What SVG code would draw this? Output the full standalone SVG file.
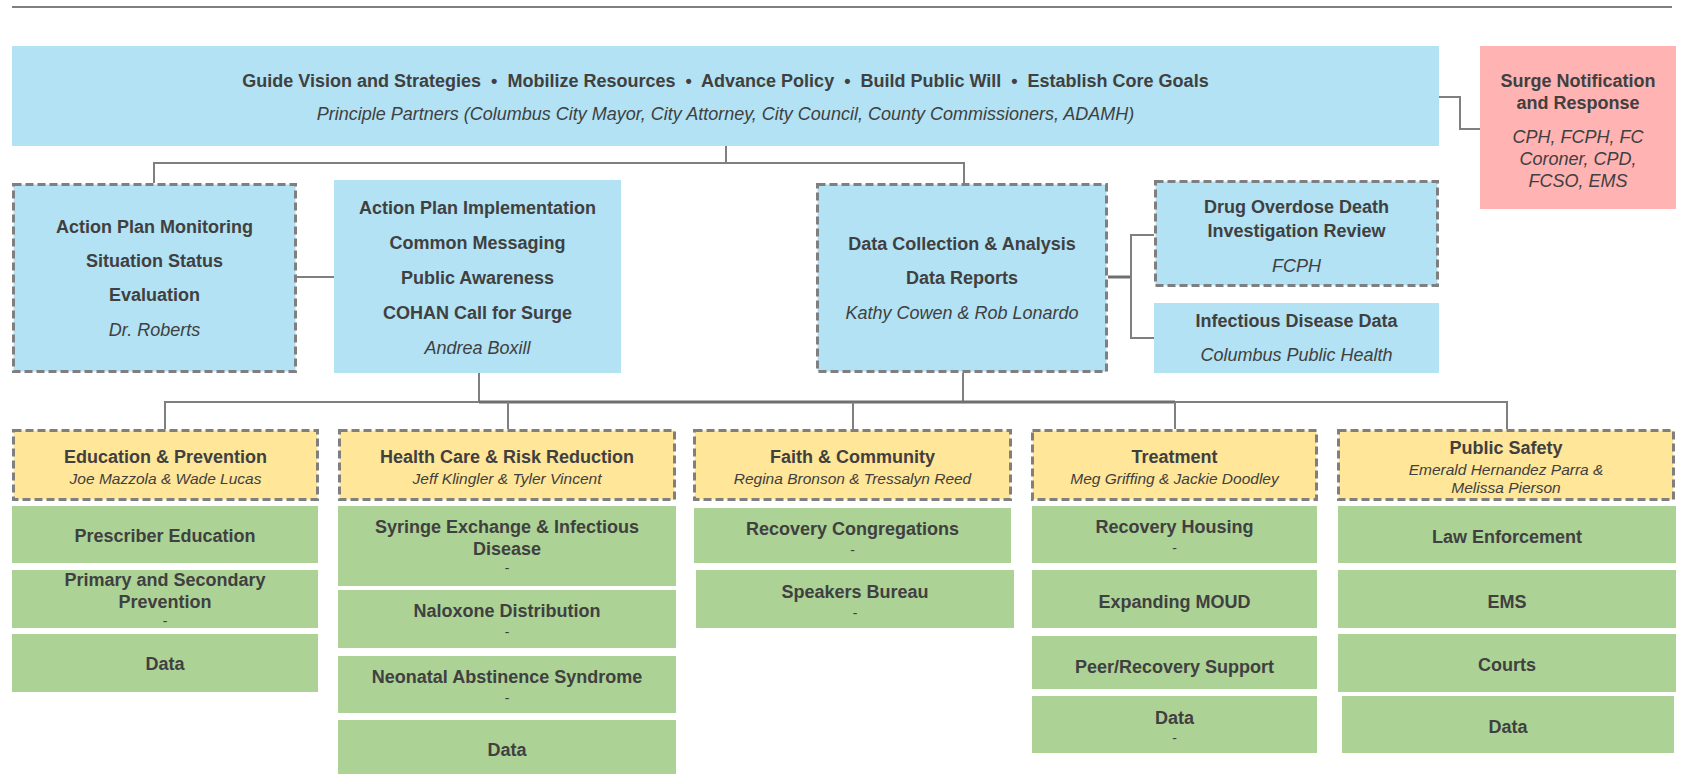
<svg xmlns="http://www.w3.org/2000/svg" width="1683" height="774" viewBox="0 0 1683 774">
<style>
.b{font-family:"Liberation Sans",Arial,sans-serif;font-weight:bold;font-size:18px;fill:#404040;text-anchor:middle;dominant-baseline:central}
.i{font-family:"Liberation Sans",Arial,sans-serif;font-style:italic;font-size:18px;fill:#404040;text-anchor:middle;dominant-baseline:central}
.n{font-family:"Liberation Sans",Arial,sans-serif;font-style:italic;font-size:15.5px;fill:#404040;text-anchor:middle;dominant-baseline:central}
.d{font-family:"Liberation Sans",Arial,sans-serif;font-size:14px;fill:#404040;text-anchor:middle;dominant-baseline:central}
.blue{fill:#b2e2f3}
.pink{fill:#ffb3b3}
.yellow{fill:#ffe699}
.green{fill:#acd296}
.dash{stroke:#7f7f7f;stroke-width:3;stroke-dasharray:8 4}
.conn{stroke:#7f7f7f;stroke-width:2;fill:none}
.thick{stroke:#6f6f6f;stroke-width:3;fill:none}
</style>
<rect width="1683" height="774" fill="#ffffff"/>
<line x1="12" y1="7" x2="1672" y2="7" stroke="#7f7f7f" stroke-width="2"/>

<g id="connectors">
<path class="conn" d="M1439,97 H1460 V129 H1480"/>
<path class="conn" d="M726,146 V163"/>
<path class="conn" d="M154,183 V163 H964 V183"/>
<path class="conn" d="M297,277 H334"/>
<path class="thick" d="M1108,277 H1131"/>
<path class="conn" d="M1154,235 H1131 V338 H1154"/>
<path class="conn" d="M479,373 V402"/>
<path class="conn" d="M963,373 V402"/>
<path class="conn" d="M165,429 V402 H1507 V429"/>
<path class="thick" d="M479,402 H1175"/>
<path class="conn" d="M508,402 V429"/>
<path class="conn" d="M853,402 V429"/>
<path class="conn" d="M1175,402 V429"/>
</g>

<g id="top">
<rect class="blue" x="12" y="46" width="1427" height="100"/>
<text class="b" x="725.5" y="81">Guide Vision and Strategies&#160; •&#160; Mobilize Resources&#160; •&#160; Advance Policy&#160; •&#160; Build Public Will&#160; •&#160; Establish Core Goals</text>
<text class="i" x="725.5" y="114">Principle Partners (Columbus City Mayor, City Attorney, City Council, County Commissioners, ADAMH)</text>
</g>

<g id="surge">
<rect class="pink" x="1480" y="46" width="196" height="163"/>
<text class="b" x="1578" y="81">Surge Notification</text>
<text class="b" x="1578" y="103">and Response</text>
<text class="i" x="1578" y="137">CPH, FCPH, FC</text>
<text class="i" x="1578" y="159">Coroner, CPD,</text>
<text class="i" x="1578" y="181">FCSO, EMS</text>
</g>

<g id="monitoring">
<rect class="blue dash" x="13.5" y="184.5" width="282" height="187"/>
<text class="b" x="154.5" y="227">Action Plan Monitoring</text>
<text class="b" x="154.5" y="261">Situation Status</text>
<text class="b" x="154.5" y="295">Evaluation</text>
<text class="i" x="154.5" y="330">Dr. Roberts</text>
</g>

<g id="implementation">
<rect class="blue" x="334" y="180" width="287" height="193"/>
<text class="b" x="477.5" y="208">Action Plan Implementation</text>
<text class="b" x="477.5" y="243">Common Messaging</text>
<text class="b" x="477.5" y="278">Public Awareness</text>
<text class="b" x="477.5" y="313">COHAN Call for Surge</text>
<text class="i" x="477.5" y="348">Andrea Boxill</text>
</g>

<g id="data-collection">
<rect class="blue dash" x="817.5" y="184.5" width="289" height="187"/>
<text class="b" x="962" y="244">Data Collection &amp; Analysis</text>
<text class="b" x="962" y="278">Data Reports</text>
<text class="i" x="962" y="313">Kathy Cowen &amp; Rob Lonardo</text>
</g>

<g id="overdose-review">
<rect class="blue dash" x="1155.5" y="181.5" width="282" height="104"/>
<text class="b" x="1296.5" y="207">Drug Overdose Death</text>
<text class="b" x="1296.5" y="231">Investigation Review</text>
<text class="i" x="1296.5" y="266">FCPH</text>
</g>

<g id="infectious-data">
<rect class="blue" x="1154" y="303" width="285" height="70"/>
<text class="b" x="1296.5" y="321">Infectious Disease Data</text>
<text class="i" x="1296.5" y="355">Columbus Public Health</text>
</g>

<g id="education">
<rect class="yellow dash" x="13.5" y="430.5" width="304" height="69"/>
<text class="b" x="165.5" y="457">Education &amp; Prevention</text>
<text class="n" x="165.5" y="478">Joe Mazzola &amp; Wade Lucas</text>
<rect class="green" x="12" y="506" width="306" height="57"/>
<text class="b" x="165" y="536">Prescriber Education</text>
<rect class="green" x="12" y="570" width="306" height="58"/>
<text class="b" x="165" y="580">Primary and Secondary</text>
<text class="b" x="165" y="602">Prevention</text>
<text class="d" x="165" y="621">-</text>
<rect class="green" x="12" y="634" width="306" height="58"/>
<text class="b" x="165" y="664">Data</text>
</g>

<g id="health-care">
<rect class="yellow dash" x="339.5" y="430.5" width="335" height="69"/>
<text class="b" x="507" y="457">Health Care &amp; Risk Reduction</text>
<text class="n" x="507" y="478">Jeff Klingler &amp; Tyler Vincent</text>
<rect class="green" x="338" y="506" width="338" height="80"/>
<text class="b" x="507" y="527">Syringe Exchange &amp; Infectious</text>
<text class="b" x="507" y="549">Disease</text>
<text class="d" x="507" y="568">-</text>
<rect class="green" x="338" y="590" width="338" height="58"/>
<text class="b" x="507" y="611">Naloxone Distribution</text>
<text class="d" x="507" y="632">-</text>
<rect class="green" x="338" y="656" width="338" height="57"/>
<text class="b" x="507" y="677">Neonatal Abstinence Syndrome</text>
<text class="d" x="507" y="698">-</text>
<rect class="green" x="338" y="720" width="338" height="54"/>
<text class="b" x="507" y="750">Data</text>
</g>

<g id="faith">
<rect class="yellow dash" x="694.5" y="430.5" width="316" height="69"/>
<text class="b" x="852.5" y="457">Faith &amp; Community</text>
<text class="n" x="852.5" y="478">Regina Bronson &amp; Tressalyn Reed</text>
<rect class="green" x="694" y="508" width="317" height="55"/>
<text class="b" x="852.5" y="529">Recovery Congregations</text>
<text class="d" x="852.5" y="550">-</text>
<rect class="green" x="696" y="570" width="318" height="58"/>
<text class="b" x="855" y="592">Speakers Bureau</text>
<text class="d" x="855" y="613">-</text>
</g>

<g id="treatment">
<rect class="yellow dash" x="1032.5" y="430.5" width="284" height="69"/>
<text class="b" x="1174.5" y="457">Treatment</text>
<text class="n" x="1174.5" y="478">Meg Griffing &amp; Jackie Doodley</text>
<rect class="green" x="1032" y="506" width="285" height="57"/>
<text class="b" x="1174.5" y="527">Recovery Housing</text>
<text class="d" x="1174.5" y="548">-</text>
<rect class="green" x="1032" y="570" width="285" height="58"/>
<text class="b" x="1174.5" y="602">Expanding MOUD</text>
<rect class="green" x="1032" y="636" width="285" height="53"/>
<text class="b" x="1174.5" y="667">Peer/Recovery Support</text>
<rect class="green" x="1032" y="696" width="285" height="57"/>
<text class="b" x="1174.5" y="718">Data</text>
<text class="d" x="1174.5" y="738">-</text>
</g>

<g id="public-safety">
<rect class="yellow dash" x="1338.5" y="430.5" width="335" height="69"/>
<text class="b" x="1506" y="448">Public Safety</text>
<text class="n" x="1506" y="469">Emerald Hernandez Parra &amp;</text>
<text class="n" x="1506" y="487">Melissa Pierson</text>
<rect class="green" x="1338" y="506" width="338" height="57"/>
<text class="b" x="1507" y="537">Law Enforcement</text>
<rect class="green" x="1338" y="570" width="338" height="58"/>
<text class="b" x="1507" y="602">EMS</text>
<rect class="green" x="1338" y="634" width="338" height="58"/>
<text class="b" x="1507" y="665">Courts</text>
<rect class="green" x="1342" y="696" width="332" height="57"/>
<text class="b" x="1508" y="727">Data</text>
</g>
</svg>
